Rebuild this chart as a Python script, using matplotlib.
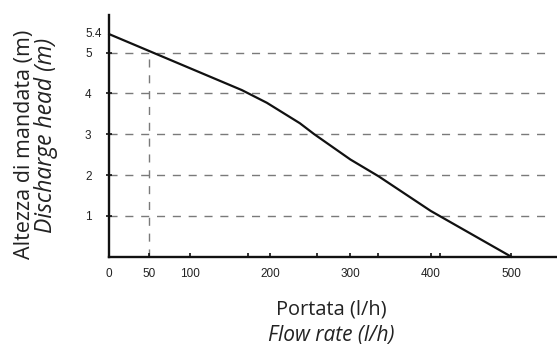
import matplotlib
matplotlib.use("Agg")
import matplotlib.pyplot as plt
from matplotlib.ticker import FixedLocator

# Data
flow = [0, 165, 196, 237, 255, 300, 335, 400, 500]
head = [5.45, 4.08, 3.77, 3.27, 3.0, 2.38, 1.97, 1.12, 0.0]
x_ticks = [0, 50, 100, 200, 300, 400, 500]
x_tick_labels = ["0", "50", "100", "200", "300", "400", "500"]
x_minor_ticks = [173, 258, 334, 412]
y_ticks = [1, 2, 3, 4, 5, 5.5]
y_tick_labels = ["1", "2", "3", "4", "5", "5.4"]
grid_heads = [1, 2, 3, 4, 5]
ref_flow = 50
ref_head = 5

W, H = 557, 346
fig = plt.figure(figsize=(W / 100, H / 100), dpi=100)
ax = fig.add_axes([109.3 / W, 1 - 256.7 / H, 1 - 109.3 / W, (256.7 - 15) / H])
ax.set_xlim(0, 557)
ax.set_ylim(0, 5.92)

dash = (0, (5.8, 5.6))
gcol = "#7a7a7a"
ax.hlines(grid_heads, 0, 549, colors=gcol, linestyles=[dash], linewidth=1.0, zorder=1)
ax.vlines([ref_flow], 0, ref_head, colors=gcol, linestyles=[dash], linewidth=1.0, zorder=1)

ax.plot(flow, head, color="#111111", linewidth=1.6, zorder=3, clip_on=False)

for s in ["top", "right"]:
    ax.spines[s].set_visible(False)
for s in ["left", "bottom"]:
    ax.spines[s].set_linewidth(1.7)
    ax.spines[s].set_color("#111111")

tick_font = "Liberation Sans"
ax.set_xticks(x_ticks)
ax.set_xticklabels(x_tick_labels, fontsize=8.5, family=tick_font, color="#222222")
ax.xaxis.set_minor_locator(FixedLocator(x_minor_ticks))
ax.tick_params(axis="x", which="both", direction="in", length=3, width=1.2, pad=8, color="#111111")

ax.set_yticks(y_ticks)
ax.set_yticklabels(y_tick_labels, fontsize=8.5, family=tick_font, color="#222222")
ax.tick_params(axis="y", direction="inout", length=5, width=1.2, pad=15, color="#111111")
for lbl in ax.get_yticklabels():
    lbl.set_horizontalalignment("left")
# no visible tick mark for the 5.4 label
ax.yaxis.get_major_ticks()[-1].tick1line.set_visible(False)

title_font = ["Open Sans", "DejaVu Sans"]
fig.text(331.5 / W, 1 - 315 / H, "Portata (l/h)", ha="center", va="baseline",
         fontsize=14.4, family=title_font, color="#222222")
fig.text(331.5 / W, 1 - 340.5 / H, "Flow rate (l/h)", ha="center", va="baseline",
         fontsize=15, family=title_font, style="italic", color="#222222")
fig.text(30 / W, 1 - 144 / H, "Altezza di mandata (m)", ha="center", va="baseline",
         rotation=90, rotation_mode="anchor", fontsize=15.5, family=title_font, color="#222222")
fig.text(52.5 / W, 1 - 135 / H, "Discharge head (m)", ha="center", va="baseline",
         rotation=90, rotation_mode="anchor", fontsize=16.5, family=title_font, style="italic",
         color="#222222")

fig.savefig("out.png", dpi=100)
